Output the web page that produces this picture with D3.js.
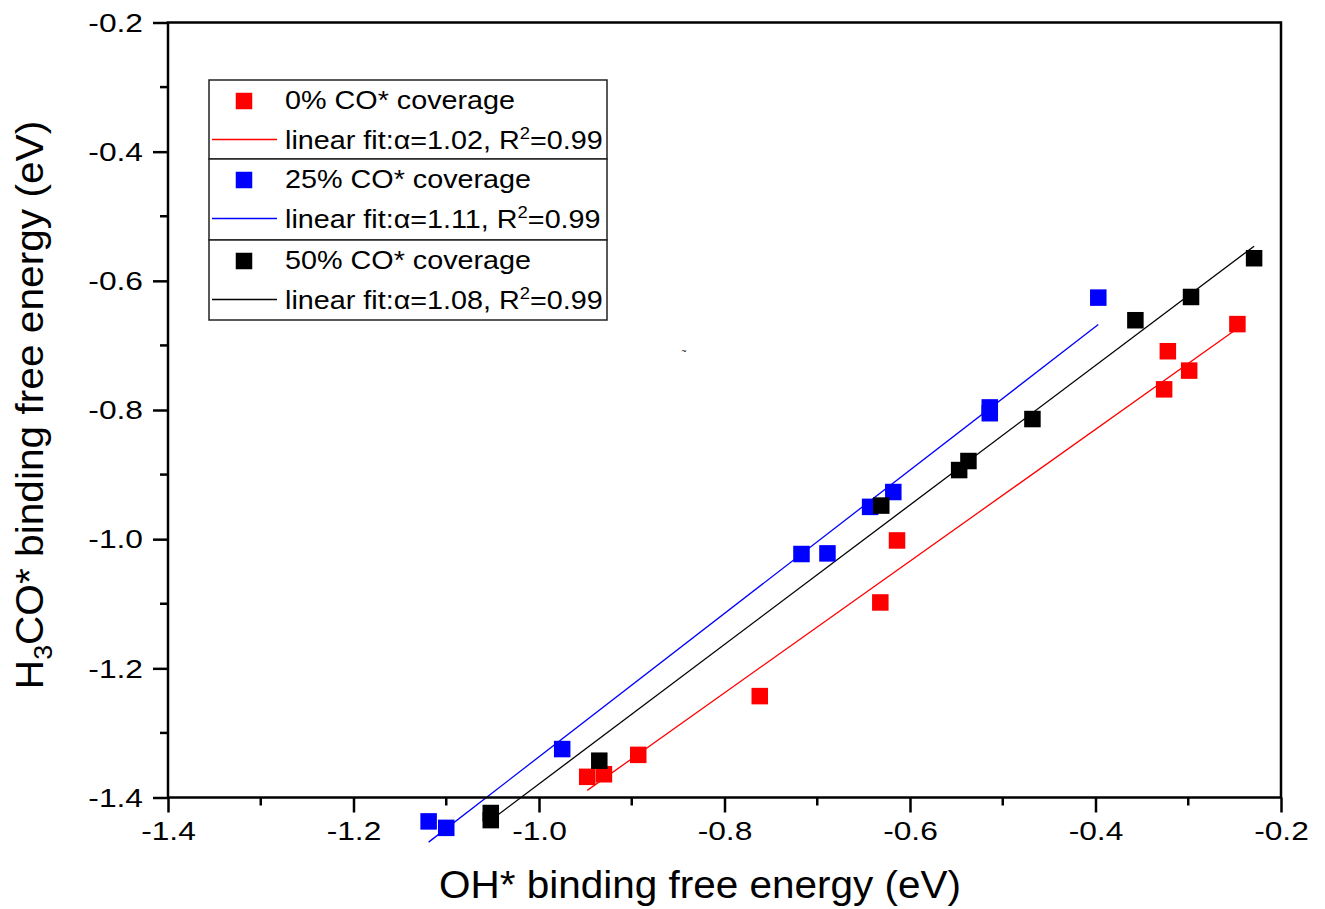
<html>
<head>
<meta charset="utf-8">
<style>
    body { margin: 0px; background: #fff; }
    text { font-family: Arial, "Liberation Sans", sans-serif; }
</style>
</head>
<body>
<svg id="viz"></svg>
</body>
<script src="https://d3js.org/d3.v7.min.js"></script>
<script>
var width = 1325;
var height = 909;

// OH* binding free energy (x) and H3CO* binding free energy (y)
var redX   = [-0.948, -0.930, -0.893, -0.762, -0.632, -0.614, -0.326, -0.322, -0.299, -0.247];
var redY   = [-1.368, -1.364, -1.334, -1.243, -1.098, -1.002, -0.768, -0.709, -0.739, -0.667];
var blueX  = [-1.119, -1.100, -0.975, -0.717, -0.689, -0.643, -0.618, -0.514, -0.514, -0.397];
var blueY  = [-1.437, -1.447, -1.325, -1.023, -1.022, -0.950, -0.927, -0.796, -0.805, -0.626];
var blackX = [-1.052, -1.052, -0.935, -0.631, -0.547, -0.537, -0.468, -0.357, -0.297, -0.229];
var blackY = [-1.424, -1.435, -1.343, -0.948, -0.893, -0.879, -0.814, -0.661, -0.625, -0.565];

var seriesNames = ["0% CO* coverage", "25% CO* coverage", "50% CO* coverage"];
var seriesColors = ["#ff0000", "#0000ff", "#000000"];
var fitSlopes = [1.02, 1.11, 1.08];
var fitIntercepts = [-0.422, -0.227, -0.299];
var fitR2 = ["0.99", "0.99", "0.99"];

var xTicks = [-1.4, -1.2, -1.0, -0.8, -0.6, -0.4, -0.2];
var yTicks = [-1.4, -1.2, -1.0, -0.8, -0.6, -0.4, -0.2];
var minorTicks = [-1.3, -1.1, -0.9, -0.7, -0.5, -0.3];

var seriesX = [redX, blueX, blackX];
var seriesY = [redY, blueY, blackY];

var margin = {left: 168, right: 44, top: 22.5, bottom: 111.5};

var x = d3.scaleLinear().domain([-1.4, -0.2]).range([margin.left, width - margin.right]);
var y = d3.scaleLinear().domain([-1.4, -0.2]).range([height - margin.bottom, margin.top]);

var svg = d3.select("#viz").attr("width", width).attr("height", height);

// the original text is drawn wider than plain Arial
function stretch(sel, s) {
    sel.each(function() {
        var t = d3.select(this);
        var ax = +t.attr("x") || 0;
        t.attr("transform", "translate(" + ax + ",0) scale(" + s + ",1) translate(" + (-ax) + ",0)");
    });
}

// fit lines and points
var plot = svg.append("g");
seriesX.forEach(function(xs, i) {
    var x0 = d3.min(xs), x1 = d3.max(xs);
    plot.append("line")
        .attr("x1", x(x0)).attr("y1", y(fitSlopes[i] * x0 + fitIntercepts[i]))
        .attr("x2", x(x1)).attr("y2", y(fitSlopes[i] * x1 + fitIntercepts[i]))
        .attr("stroke", seriesColors[i])
        .attr("stroke-width", 1.3);
});
var sq = 16.5;
seriesX.forEach(function(xs, i) {
    plot.append("g").selectAll("rect")
        .data(d3.range(xs.length))
        .enter()
        .append("rect")
        .attr("x", function(j) { return x(xs[j]) - sq / 2; })
        .attr("y", function(j) { return y(seriesY[i][j]) - sq / 2; })
        .attr("width", sq)
        .attr("height", sq)
        .attr("fill", seriesColors[i]);
});

// axes
var fmt = function(d) { return d.toFixed(1); };
var xAxis = svg.append("g")
    .attr("transform", "translate(0," + y(-1.4) + ")")
    .call(d3.axisBottom(x).tickValues(xTicks).tickSize(15).tickSizeOuter(0).tickFormat(fmt));
xAxis.append("g").selectAll("line")
    .data(minorTicks).enter().append("line")
    .attr("x1", function(d) { return x(d); }).attr("x2", function(d) { return x(d); })
    .attr("y1", 0).attr("y2", 8).attr("stroke", "#000").attr("stroke-width", 2.5);

var yAxis = svg.append("g")
    .attr("transform", "translate(" + x(-1.4) + ",0)")
    .call(d3.axisLeft(y).tickValues(yTicks).tickSize(15).tickSizeOuter(0).tickFormat(fmt));
yAxis.append("g").selectAll("line")
    .data(minorTicks).enter().append("line")
    .attr("y1", function(d) { return y(d); }).attr("y2", function(d) { return y(d); })
    .attr("x1", 0).attr("x2", -8).attr("stroke", "#000").attr("stroke-width", 2.5);

[xAxis, yAxis].forEach(function(a) {
    a.select(".domain").remove();
    a.selectAll(".tick line").attr("stroke", "#000").attr("stroke-width", 2.5);
    a.selectAll(".tick text")
        .attr("fill", "#000")
        .style("font-size", "25px")
        .style("font-family", "Arial, 'Liberation Sans', sans-serif");
});
xAxis.selectAll(".tick text").attr("y", 25).attr("dy", "0.71em");
yAxis.selectAll(".tick text").attr("x", -25).attr("dy", "0.35em");
stretch(xAxis.selectAll(".tick text"), 1.27);
stretch(yAxis.selectAll(".tick text"), 1.27);

// frame
svg.append("rect")
    .attr("x", x(-1.4)).attr("y", y(-0.2))
    .attr("width", x(-0.2) - x(-1.4)).attr("height", y(-1.4) - y(-0.2))
    .attr("fill", "none").attr("stroke", "#000").attr("stroke-width", 2.5);

// axis titles
var xt = svg.append("text")
    .attr("x", 700).attr("y", 898)
    .attr("text-anchor", "middle")
    .style("font-size", "38px")
    .text("OH* binding free energy (eV)");
stretch(xt, 1.065);

var yt = svg.append("text")
    .attr("transform", "translate(43,405) rotate(-90) scale(1.07,1)")
    .attr("text-anchor", "middle")
    .style("font-size", "38px");
yt.append("tspan").text("H");
yt.append("tspan").attr("dy", 9).style("font-size", "25px").text("3");
yt.append("tspan").attr("dy", -9).text("CO* binding free energy (eV)");

// legend
var legend = svg.append("g");
var boxTop = [80, 159, 240];
var boxBottom = [159, 240, 320];
seriesNames.forEach(function(name, i) {
    var top = boxTop[i];
    legend.append("rect")
        .attr("x", 209).attr("y", top)
        .attr("width", 398).attr("height", boxBottom[i] - top)
        .attr("fill", "#fff").attr("stroke", "#222").attr("stroke-width", 1.5);
    legend.append("rect")
        .attr("x", 244 - sq / 2).attr("y", top + 21 - sq / 2)
        .attr("width", sq).attr("height", sq)
        .attr("fill", seriesColors[i]);
    var t1 = legend.append("text")
        .attr("x", 285).attr("y", top + 29)
        .style("font-size", "25px")
        .text(name);
    stretch(t1, 1.15);
    legend.append("line")
        .attr("x1", 212).attr("x2", 277)
        .attr("y1", top + 59.5).attr("y2", top + 59.5)
        .attr("stroke", seriesColors[i]).attr("stroke-width", 1.3);
    var t = legend.append("text")
        .attr("x", 285).attr("y", top + 69)
        .style("font-size", "25px");
    t.append("tspan").text("linear fit:\u03b1=" + fitSlopes[i].toFixed(2) + ", R");
    t.append("tspan").attr("dy", -10).style("font-size", "16px").text("2");
    t.append("tspan").attr("dy", 10).text("=" + fitR2[i]);
    stretch(t, 1.15);
});

// small stray mark in the original
svg.append("text")
    .attr("x", 684).attr("y", 354)
    .attr("text-anchor", "middle")
    .style("font-size", "9px")
    .text("~");
</script>
</html>
